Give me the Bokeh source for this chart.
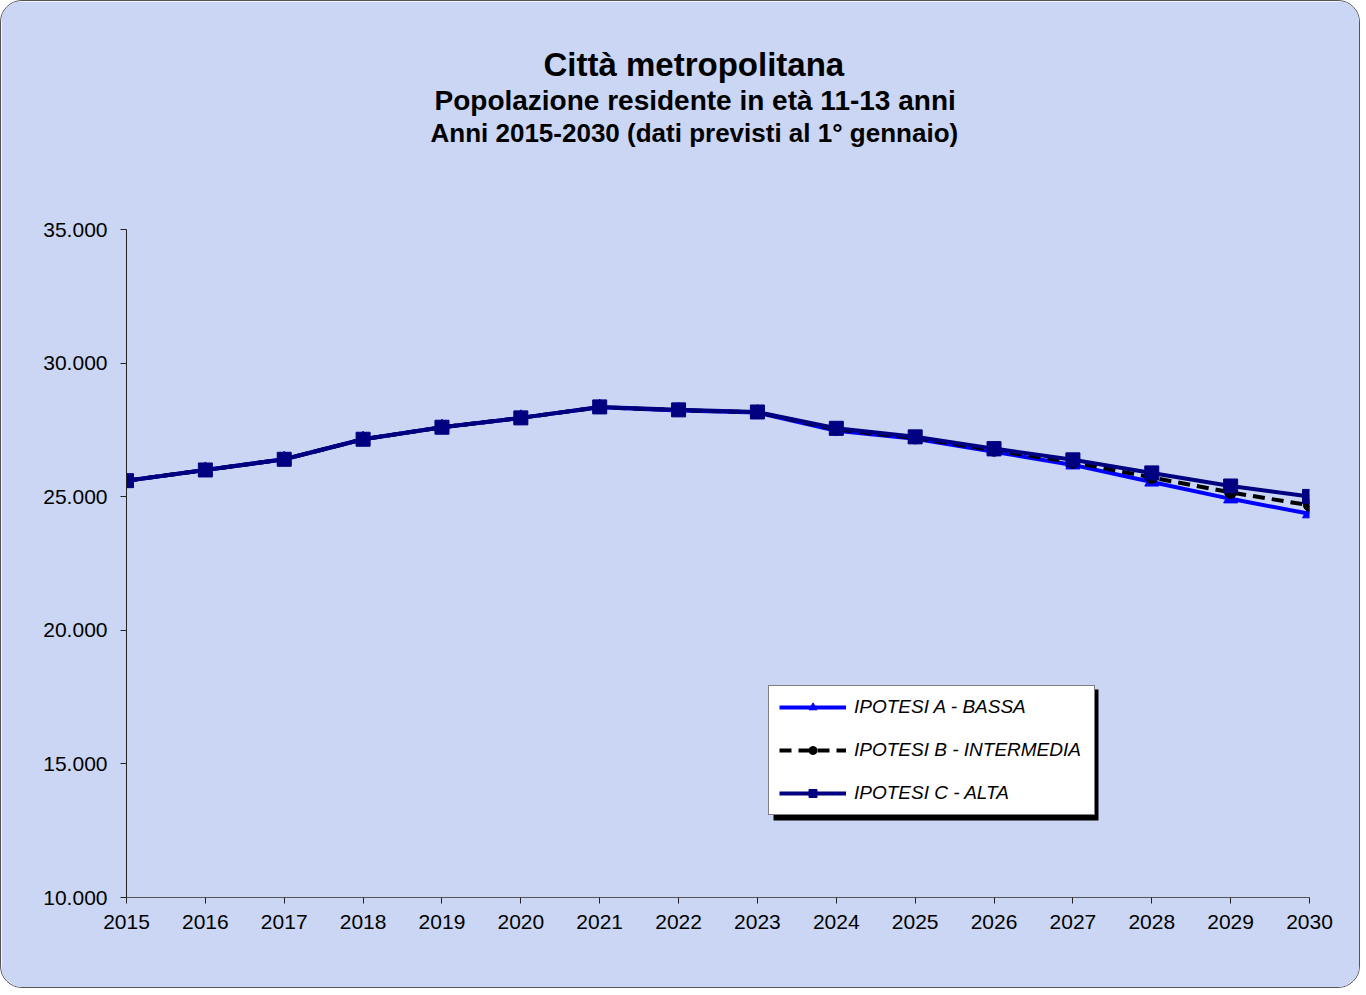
from bokeh.plotting import figure
from bokeh.models import (Range1d, FixedTicker, CustomJSTickFormatter, Legend, LegendItem,
                          Title, BoxAnnotation, ColumnDataSource)
from bokeh.embed import file_html
from bokeh.resources import INLINE

years = list(range(2015, 2031))
ipotesi_a = [25600, 26000, 26400, 27150, 27600, 27950, 28350, 28230, 28150,
             27470, 27170, 26680, 26190, 25550, 24920, 24360]
ipotesi_b = [25600, 26000, 26400, 27150, 27600, 27950, 28350, 28240, 28160,
             27520, 27200, 26740, 26290, 25720, 25160, 24680]
ipotesi_c = [25600, 26000, 26400, 27150, 27600, 27950, 28360, 28250, 28170,
             27560, 27240, 26800, 26380, 25890, 25400, 25010]
y_ticks = [10000, 15000, 20000, 25000, 30000, 35000]
title_lines = ["Città metropolitana",
               "Popolazione residente in età 11-13 anni",
               "Anni 2015-2030 (dati previsti al 1° gennaio)"]
legend_labels = ["IPOTESI A - BASSA", "IPOTESI B - INTERMEDIA", "IPOTESI C - ALTA"]

BG = "#cad6f3"
FONT = "Liberation Sans"

W, H = 1360, 988
FL, FR, FB = 125, 52, 92

p = figure(width=W, height=H, output_backend="svg", toolbar_location=None,
           x_range=Range1d(years[0], years[-1]), y_range=Range1d(10000, 35000),
           min_border_left=FL, min_border_right=FR, min_border_top=0, min_border_bottom=FB,
           background_fill_color=BG, border_fill_color=BG,
           styles={"border": "1px solid #555555", "border-radius": "22px", "overflow": "hidden"})
p.title.visible = False
p.outline_line_color = BG
p.outline_line_width = 2
p.grid.visible = False

# titles (first added sits closest to the frame)
p.add_layout(Title(text=" ", text_font_size="63px", text_font=FONT, align="center"), "above")
for txt, fs, off in [(title_lines[2], "26px", 304), (title_lines[1], "28px", 308),
                     (title_lines[0], "33px", 417)]:
    p.add_layout(Title(text=txt, text_font=FONT, text_font_size=fs, text_font_style="bold",
                       text_color="black", align="left", offset=off, standoff=0), "above")
p.add_layout(Title(text=" ", text_font_size="27px", text_font=FONT, align="center"), "above")

# axes
p.xaxis.ticker = FixedTicker(ticks=years)
p.yaxis.ticker = FixedTicker(ticks=y_ticks)
p.yaxis.formatter = CustomJSTickFormatter(
    code="return Math.round(tick).toString().replace(/\\B(?=(\\d{3})+(?!\\d))/g, '.');")
for ax in (p.xaxis, p.yaxis):
    ax.axis_line_color = "#222222"
    ax.axis_line_width = 1
    ax.major_tick_line_color = "#222222"
    ax.major_tick_in = 0
    ax.major_tick_out = 6
    ax.minor_tick_line_color = None
    ax.major_label_text_font = FONT
    ax.major_label_text_font_size = "21px"
    ax.major_label_text_color = "black"
p.yaxis.major_label_standoff = 13
p.xaxis.major_label_standoff = 11
p.xaxis.axis_line_color = "#555555"

src = ColumnDataSource(dict(x=years, a=ipotesi_a, b=ipotesi_b, c=ipotesi_c))

la = p.line("x", "a", source=src, line_color="#0000ff", line_width=4)
ma = p.scatter("x", "a", source=src, marker="triangle", size=14,
               fill_color="#0000ff", line_color="#0000ff")
lb = p.line("x", "b", source=src, line_color="black", line_width=4, line_dash="12 7")
mb = p.scatter("x", "b", source=src, marker="circle", size=12,
               fill_color="black", line_color="black")
lc = p.line("x", "c", source=src, line_color="#000080", line_width=4)
mc = p.scatter("x", "c", source=src, marker="square", size=14,
               fill_color="#000080", line_color="#000080")

# legend shadow (screen offsets from frame bottom-left)
LX, LY, LW, LH = 642, 82, 325, 131
p.add_layout(BoxAnnotation(left=LX + 5, right=LX + LW + 5, bottom=LY - 5, top=LY + LH - 5,
                           left_units="screen", right_units="screen",
                           bottom_units="screen", top_units="screen",
                           fill_color="black", fill_alpha=1, line_color=None))

legend = Legend(items=[LegendItem(label=legend_labels[0], renderers=[la, ma]),
                       LegendItem(label=legend_labels[1], renderers=[lb, mb]),
                       LegendItem(label=legend_labels[2], renderers=[lc, mc])],
                location=(LX, LY), orientation="vertical",
                background_fill_color="white", background_fill_alpha=1,
                border_line_color="black", border_line_width=1,
                label_text_font=FONT, label_text_font_size="19px", label_text_font_style="italic",
                label_text_color="black", glyph_width=67, glyph_height=20, label_height=20,
                label_width=230, spacing=21, padding=10, margin=0, label_standoff=8)
p.add_layout(legend, "center")

open("out.html", "w").write(file_html(p, INLINE))
